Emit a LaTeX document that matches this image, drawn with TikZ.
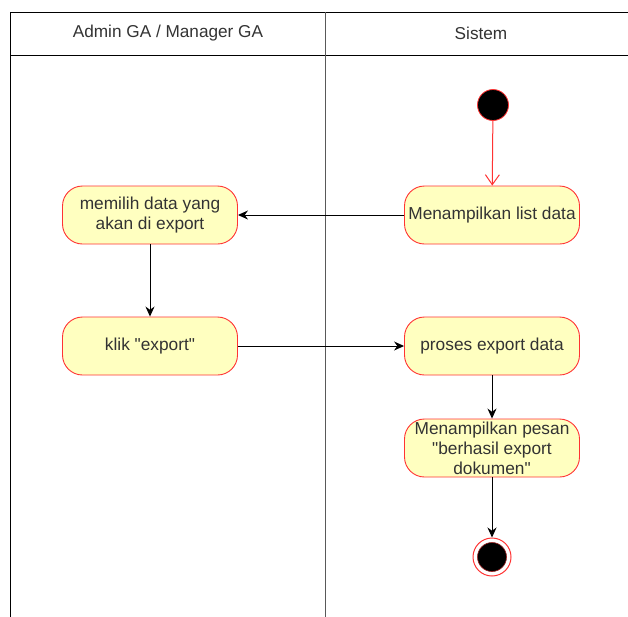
\documentclass[tikz,border=0pt]{standalone}
\usepackage{fontspec}
\defaultfontfeatures{}
\defaultfontfeatures[\rmfamily]{}
\setmainfont{Liberation Sans}
\usetikzlibrary{arrows.meta}
\definecolor{actfill}{HTML}{FFFFC0}
\definecolor{actline}{HTML}{FF3333}
\definecolor{txt}{HTML}{333333}
\newcommand{\dq}{\symbol{34}}
\tikzset{
  act/.style={draw=actline, fill=actfill, rounded corners=20pt, minimum width=175pt, minimum height=58pt, align=center, font=\fontsize{17.3}{20}\selectfont, text=txt, inner sep=1pt, line width=0.9pt},
  flow/.style={draw=black, line width=1pt, -{Stealth[length=10pt,width=9pt]}},
  lane/.style={line width=1pt},
  hdr/.style={font=\fontsize{17.2}{19}\selectfont, text=txt}
}
\begin{document}
\begin{tikzpicture}[x=1pt,y=-1pt]
\useasboundingbox (0,0) rectangle (628,616);
% swimlanes
\draw[lane] (10,620) -- (10,12) -- (630,12);
\draw[lane] (10,55) -- (630,55);
\draw[lane, draw=black!65] (325,12) -- (325,620);
\node[hdr] (h1) at (168,33) {Admin GA / Manager GA};
\node[hdr] (h2) at (481,33) {Sistem};
% nodes
\node[circle, fill=black, draw=actline, line width=0.8pt, minimum size=31pt, inner sep=0pt] (start) at (493,105) {};
\node[act] (list) at (492,215) {Menampilkan list data};
\node[act] (pilih) at (150,215) {memilih data yang\\akan di export};
\node[act] (klik) at (150,346) {klik \dq export\dq};
\node[act] (proses) at (492,346) {proses export data};
\node[act] (pesan) at (492,448) {Menampilkan pesan\\\dq berhasil export\\dokumen\dq};
\node[circle, draw=actline, fill=white, line width=1pt, minimum size=38pt, inner sep=0pt] (end) at (492,557) {};
\node[circle, fill=black, draw=actline!60!black, line width=0.6pt, minimum size=29pt, inner sep=0pt] (endin) at (end.center) {};
% connectors
\draw[draw=actline, line width=1pt, -{Straight Barb[length=10pt,width=14pt]}] (start) -- (list);
\draw[flow] (list) -- (pilih);
\draw[flow] (pilih) -- (klik);
\draw[flow] (klik) -- (proses);
\draw[flow] (proses) -- (pesan);
\draw[flow] (pesan) -- (end);
\end{tikzpicture}
\end{document}
